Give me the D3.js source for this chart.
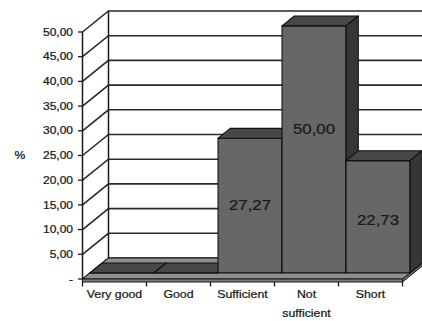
<!DOCTYPE html>
<html>
<head>
<meta charset="utf-8">
<script src="https://cdn.jsdelivr.net/npm/d3@7"></script>
<style>
  html, body { margin: 0; padding: 0; background: #fff; }
  svg { display: block; }
  text { font-family: "Liberation Sans", Arial, sans-serif; fill: #1a1a1a; stroke: #1a1a1a; stroke-width: 0.25px; }
</style>
</head>
<body>
<svg id="chart" width="422" height="321"></svg>
<script>
// Rating categories (two-line labels are split on "\n")
const categories = ["Very good", "Good", "Sufficient", "Not\nsufficient", "Short"];
// Share of answers per category, in %
const values = [0, 0, 27.27, 50.00, 22.73];
// Value axis ticks and their labels
const yTicks = [0, 5, 10, 15, 20, 25, 30, 35, 40, 45, 50];
const yTickLabels = ["-", "5,00", "10,00", "15,00", "20,00", "25,00", "30,00", "35,00", "40,00", "45,00", "50,00"];
const yTitle = "%";

const fmt = v => v.toFixed(2).replace(".", ",");

const svg = d3.select("#chart");

// Front plane scales
const x = d3.scaleBand().domain(categories).range([82.5, 402.5]).padding(0);
const y = d3.scaleLinear().domain([0, 50]).range([279, 32]);

// Oblique depth vector of the 3D box (front -> back wall)
const DX = 26, DY = -21;
const T0 = 0.29, T1 = 0.76;        // bar front / back depth fractions
const FLOOR_T = 3;                   // floor slab thickness

const x0 = x.range()[0], x1 = x.range()[1];
const pt = (px, py, t) => [px + DX * t, py + DY * t];
const poly = pts => "M" + pts.map(p => p.join(",")).join("L") + "Z";

const grid = svg.append("g");

// Back wall
grid.append("path")
  .attr("d", poly([pt(x0, y(50), 1), pt(x1, y(50), 1), pt(x1, y(0), 1), pt(x0, y(0), 1)]))
  .attr("fill", "#fff");

// Gridlines: diagonal on the side wall, horizontal on the back wall
yTicks.filter(v => v > 0).forEach(v => {
  const a = [x0, y(v)], b = pt(x0, y(v), 1), c = pt(x1, y(v), 1);
  grid.append("path")
    .attr("d", `M${a}L${b}L${c}`)
    .attr("fill", "none")
    .attr("stroke", "#2a2a2a")
    .attr("stroke-width", 1.6);
});

// Back wall left edge and side wall edges
grid.append("path")
  .attr("d", `M${pt(x0, y(0), 1)}L${pt(x0, y(50), 1)}`)
  .attr("stroke", "#1a1a1a").attr("stroke-width", 1.5);
grid.append("path")
  .attr("d", `M${[x0, y(0)]}L${pt(x0, y(0), 1)}L${pt(x1, y(0), 1)}`)
  .attr("fill", "none").attr("stroke", "#1a1a1a").attr("stroke-width", 1.5);

// Floor slab
const floor = svg.append("g").attr("stroke", "#1a1a1a").attr("stroke-width", 1).attr("stroke-linejoin", "round");
floor.append("path")
  .attr("d", poly([[x0, y(0)], [x1, y(0)], pt(x1, y(0), 1), pt(x0, y(0), 1)]))
  .attr("fill", "#8e8e8e");
floor.append("path")
  .attr("d", poly([[x0, y(0)], [x1, y(0)], [x1, y(0) + FLOOR_T], [x0, y(0) + FLOOR_T]]))
  .attr("fill", "#7a7a7a");
floor.append("path")
  .attr("d", poly([[x1, y(0)], pt(x1, y(0), 1), pt(x1, y(0) + FLOOR_T, 1), [x1, y(0) + FLOOR_T]]))
  .attr("fill", "#6a6a6a");

// Bars, left to right so each bar hides the side face of the previous one
const bars = svg.append("g").attr("stroke", "#111").attr("stroke-width", 1.1).attr("stroke-linejoin", "round");
categories.forEach((c, i) => {
  const v = values[i];
  const L = x(c), R = x(c) + x.bandwidth();
  const top = y(v), bot = y(0);
  const g = bars.append("g");
  // front face
  g.append("path")
    .attr("d", poly([pt(L, top, T0), pt(R, top, T0), pt(R, bot, T0), pt(L, bot, T0)]))
    .attr("fill", "#676767");
  // top face
  g.append("path")
    .attr("d", poly([pt(L, top, T0), pt(R, top, T0), pt(R, top, T1), pt(L, top, T1)]))
    .attr("fill", "#474747");
  // right side face
  g.append("path")
    .attr("d", poly([pt(R, top, T0), pt(R, top, T1), pt(R, bot, T1), pt(R, bot, T0)]))
    .attr("fill", "#363636");
});

// Text helper: labels are drawn slightly widened
function label(parent, px, py, str, size, anchor, sx) {
  return parent.append("text")
    .attr("transform", `translate(${px},${py}) scale(${sx},1)`)
    .attr("text-anchor", anchor)
    .style("font-size", size + "px")
    .text(str);
}

// Value labels on the bars
const labels = svg.append("g");
categories.forEach((c, i) => {
  const v = values[i];
  if (v <= 0) return;
  const cx = x(c) + x.bandwidth() / 2 + DX * T0;
  const cy = y(v * 0.676) + 17;
  label(labels, cx, cy + 5.3, fmt(v), 15, "middle", 1.12);
});

// Value axis
const yAxis = svg.append("g");
yAxis.append("line")
  .attr("x1", x0).attr("x2", x0).attr("y1", y(0)).attr("y2", y(50))
  .attr("stroke", "#1a1a1a").attr("stroke-width", 1.5);
yTicks.forEach((v, i) => {
  yAxis.append("line")
    .attr("x1", x0 - 4.5).attr("x2", x0).attr("y1", y(v)).attr("y2", y(v))
    .attr("stroke", "#1a1a1a").attr("stroke-width", 1.3);
  label(yAxis, x0 - 9.5, y(v) + 3.6, yTickLabels[i], 10, "end", 1.2);
});
label(yAxis, 20, 159, yTitle, 11, "middle", 1.1);

// Category axis
const xAxis = svg.append("g");
d3.range(categories.length + 1).forEach(k => {
  const px = x0 + k * x.bandwidth();
  xAxis.append("line")
    .attr("x1", px).attr("x2", px).attr("y1", y(0) + FLOOR_T).attr("y2", y(0) + FLOOR_T + 4.5)
    .attr("stroke", "#1a1a1a").attr("stroke-width", 1.3);
});
categories.forEach(c => {
  const cx = x(c) + x.bandwidth() / 2;
  c.split("\n").forEach((line, j) => {
    label(xAxis, cx, 298 + j * 18.5, line, 11, "middle", 1.12);
  });
});
</script>
</body>
</html>
